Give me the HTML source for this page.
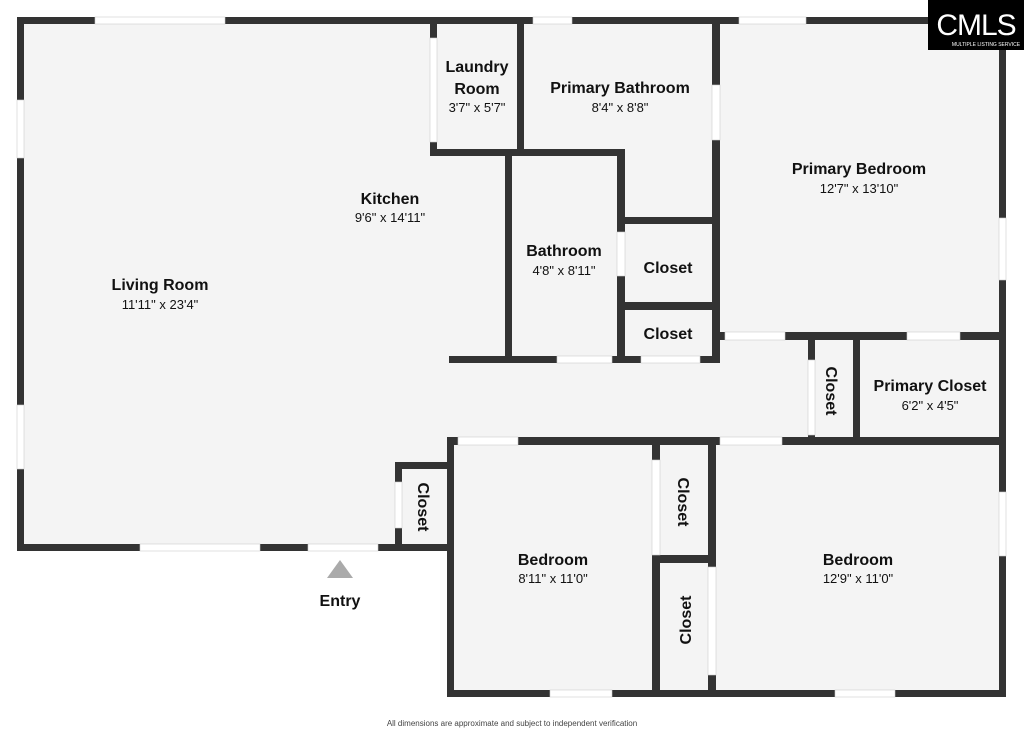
<!DOCTYPE html>
<html><head><meta charset="utf-8"><style>
html,body{margin:0;padding:0;background:#fff;}
svg{display:block}
text{font-family:"Liberation Sans",sans-serif;fill:#111;text-anchor:middle}
.n{font-weight:bold;font-size:16px}
.d{font-size:13px}
</style></head><body>
<svg width="1024" height="732" viewBox="0 0 1024 732" xmlns="http://www.w3.org/2000/svg">
<rect width="1024" height="732" fill="#fff"/>
<!-- floor -->
<polygon points="24,24 999,24 999,690 454,690 454,544 24,544" fill="#f4f4f4"/>
<g fill="#333">
<!-- outer -->
<rect x="17" y="17" width="989" height="7"/>
<rect x="17" y="17" width="7" height="534"/>
<rect x="999" y="17" width="7" height="680"/>
<rect x="17" y="544" width="430" height="7"/>
<rect x="447" y="690" width="559" height="7"/>
<!-- laundry -->
<rect x="430" y="24" width="7" height="132"/>
<rect x="430" y="149" width="94" height="7"/>
<rect x="517" y="24" width="7" height="132"/>
<!-- bathroom -->
<rect x="505" y="149" width="7" height="214"/>
<rect x="505" y="149" width="120" height="7"/>
<rect x="617" y="149" width="8" height="214"/>
<rect x="449" y="356" width="271" height="7"/>
<!-- primary bath right -->
<rect x="712" y="24" width="8" height="339"/>
<rect x="617" y="217" width="103" height="7"/>
<rect x="617" y="302" width="103" height="8"/>
<!-- primary bedroom bottom -->
<rect x="712" y="332" width="294" height="8"/>
<!-- hall closet -->
<rect x="808" y="340" width="7" height="100"/>
<rect x="853" y="340" width="7" height="100"/>
<rect x="447" y="437" width="559" height="8"/>
<!-- bedroom left -->
<rect x="447" y="437" width="7" height="260"/>
<!-- entry closet -->
<rect x="395" y="462" width="59" height="7"/>
<rect x="395" y="462" width="7" height="89"/>
<!-- bedroom closets -->
<rect x="652" y="445" width="8" height="252"/>
<rect x="652" y="555" width="64" height="8"/>
<rect x="708" y="445" width="8" height="252"/>
</g>
<g fill="#fff" stroke="#ccc" stroke-width="0.6">
<!-- windows/doors -->
<rect x="95" y="17" width="130" height="7"/>
<rect x="533" y="17" width="39" height="7"/>
<rect x="739" y="17" width="67" height="7"/>
<rect x="17" y="100" width="7" height="58"/>
<rect x="17" y="405" width="7" height="64"/>
<rect x="140" y="544" width="120" height="7"/>
<rect x="308" y="544" width="70" height="7"/>
<rect x="430" y="38" width="7" height="104"/>
<rect x="557" y="356" width="55" height="7"/>
<rect x="641" y="356" width="59" height="7"/>
<rect x="617" y="232" width="8" height="44"/>
<rect x="712" y="85" width="8" height="55"/>
<rect x="725" y="332" width="60" height="8"/>
<rect x="907" y="332" width="53" height="8"/>
<rect x="808" y="360" width="7" height="75"/>
<rect x="458" y="437" width="60" height="8"/>
<rect x="720" y="437" width="62" height="8"/>
<rect x="395" y="482" width="7" height="46"/>
<rect x="652" y="460" width="8" height="95"/>
<rect x="708" y="567" width="8" height="108"/>
<rect x="999" y="218" width="7" height="62"/>
<rect x="999" y="492" width="7" height="64"/>
<rect x="550" y="690" width="62" height="7"/>
<rect x="835" y="690" width="60" height="7"/>
</g>
<!-- labels -->
<text class="n" x="160" y="290">Living Room</text><text class="d" x="160" y="309">11'11" x 23'4"</text>
<text class="n" x="390" y="204">Kitchen</text><text class="d" x="390" y="222">9'6" x 14'11"</text>
<text class="n" x="477" y="72">Laundry</text><text class="n" x="477" y="94">Room</text><text class="d" x="477" y="112">3'7" x 5'7"</text>
<text class="n" x="620" y="93">Primary Bathroom</text><text class="d" x="620" y="112">8'4" x 8'8"</text>
<text class="n" x="859" y="174">Primary Bedroom</text><text class="d" x="859" y="193">12'7" x 13'10"</text>
<text class="n" x="564" y="256">Bathroom</text><text class="d" x="564" y="275">4'8" x 8'11"</text>
<text class="n" x="668" y="273">Closet</text>
<text class="n" x="668" y="339">Closet</text>
<text class="n" x="930" y="391">Primary Closet</text><text class="d" x="930" y="410">6'2" x 4'5"</text>
<text class="n" transform="translate(826,391) rotate(90)">Closet</text>
<text class="n" transform="translate(418,507) rotate(90)">Closet</text>
<text class="n" transform="translate(678,502) rotate(90)">Closet</text>
<text class="n" transform="translate(691,620) rotate(-90)">Closet</text>
<text class="n" x="553" y="565">Bedroom</text><text class="d" x="553" y="583">8'11" x 11'0"</text>
<text class="n" x="858" y="565">Bedroom</text><text class="d" x="858" y="583">12'9" x 11'0"</text>
<polygon points="340,560 327,578 353,578" fill="#aaa"/>
<text class="n" x="340" y="606">Entry</text>
<text x="512" y="726" style="font-size:8px;fill:#444">All dimensions are approximate and subject to independent verification</text>
<!-- logo -->
<rect x="928" y="0" width="96" height="50" fill="#000"/>
<text x="976" y="35" style="font-size:30px;fill:#fff;letter-spacing:-1px">CMLS</text>
<text x="986" y="46" style="font-size:5px;fill:#fff">MULTIPLE LISTING SERVICE</text>
</svg>
</body></html>
